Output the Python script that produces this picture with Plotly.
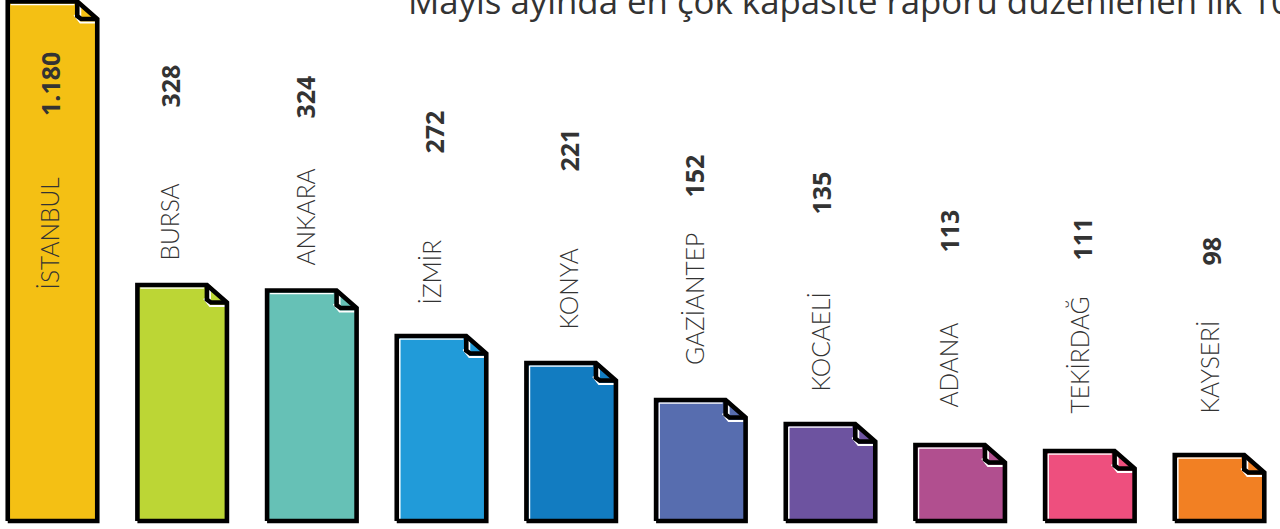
import plotly.graph_objects as go

# --- data ---
cities = ["İSTANBUL", "BURSA", "ANKARA", "İZMİR", "KONYA", "GAZİANTEP", "KOCAELİ", "ADANA", "TEKİRDAĞ", "KAYSERİ"]
value_labels = ["1.180", "328", "324", "272", "221", "152", "135", "113", "111", "98"]
# drawn bar lengths (the reference's bars are not proportional to the printed numbers)
bar_heights = [519.5, 236, 230.5, 185, 158, 121, 97, 76, 70, 66]
title_text = "Mayıs ayında en çok kapasite raporu düzenlenen ilk 10 il"

# --- styling / layout (separate from data) ---
colors = ["#F4C014", "#BCD635", "#66C1B6", "#219BD9", "#127CC1", "#576DAF", "#6D53A0", "#B14F8F", "#EE4F7E", "#F28023"]
W, H = 1280, 529
X0, DX = 52.5, 129.67
BASE_PX = 521
BAR_W = 89.5 / DX
EAR_X = 20 / DX
EAR_Y = 17.5
name_x_px = [49, 169, 305, 431, 568, 694, 820, 948, 1079, 1209]
value_x_px = [50, 169, 305, 433, 568, 694, 820, 948, 1081, 1210]
name_bottom_px = [292, 263, 268, 307, 332, 367, 394, 410, 416, 416]
value_bottom_px = [118, 110, 121, 156, 174, 200, 217, 255, 263, 268]
left_highlight = [False, False, False, True, True, True, True, True, True, True]
INK = "#333333"
NAME_FONT = dict(family="Lato, 'Open Sans', sans-serif", size=24.5, color=INK, weight=300)
VALUE_FONT = dict(family="'Open Sans', sans-serif", size=25, color=INK, weight=700)

idx = list(range(len(cities)))
fig = go.Figure()

fig.add_trace(go.Bar(
    x=idx, y=bar_heights, width=BAR_W, marker=dict(color=colors, line=dict(width=0)),
    showlegend=False, hoverinfo="skip",
))


def poly(xs, ys, fill=None, line=None, lw=0):
    fig.add_trace(go.Scatter(
        x=xs, y=ys, mode="lines", fill="toself" if fill else None, fillcolor=fill,
        line=dict(color=line or "rgba(0,0,0,0)", width=lw), showlegend=False, hoverinfo="skip",
    ))


for i, h, c in zip(idx, bar_heights, colors):
    L, R = i - BAR_W / 2, i + BAR_W / 2
    fx, fy = R - EAR_X, h - EAR_Y
    px = 1 / DX
    # cut the outside of the corner
    poly([fx, R + px, R + px, fx], [h + 3, h + 3, fy, h + 3], fill="#FFFFFF")
    # the folded flap
    poly([fx, R, fx, fx], [h, fy, fy, h], fill="#FFFFFF")
    poly([fx + 4 * px, R - 2 * px, fx + 4 * px, fx + 4 * px], [h - 4, fy + 1, fy + 1, h - 4], fill=c)
    # white highlights
    hx = [L + 3 * px, fx - 3 * px]
    poly(hx, [h - 3, h - 3], line="#FFFFFF", lw=1.6)
    poly([fx - 3 * px, fx + 3 * px, R - 2 * px], [fy + 4, fy - 3.5, fy - 3.5], line="#FFFFFF", lw=1.8)
    if left_highlight[i]:
        poly([L + 3 * px, L + 3 * px], [h - 3, 2], line="#FFFFFF", lw=1.6)
    # black outline
    poly([L, L, fx, R, R, L], [0, h, h, fy, 0, 0], line="#000000", lw=4.6)
    poly([fx, fx, fx + 4 * px, R], [h, fy + 3, fy, fy], line="#000000", lw=4.6)

annotations = []
for i in idx:
    annotations.append(dict(
        x=name_x_px[i] / W, y=(H - name_bottom_px[i]) / H, xref="paper", yref="paper",
        text=cities[i], textangle=-90, showarrow=False, xanchor="center", yanchor="bottom",
        font=NAME_FONT,
    ))
    annotations.append(dict(
        x=value_x_px[i] / W, y=(H - value_bottom_px[i]) / H, xref="paper", yref="paper",
        text=value_labels[i], textangle=-90, showarrow=False, xanchor="center", yanchor="bottom",
        font=VALUE_FONT,
    ))
annotations.append(dict(
    x=406 / W, y=(H - 26) / H, xref="paper", yref="paper", text=title_text, showarrow=False,
    xanchor="left", yanchor="bottom",
    font=dict(family="'Liberation Sans Narrow', 'Open Sans', sans-serif", size=34.8, color=INK),
))

fig.update_layout(
    width=W, height=H, margin=dict(l=0, r=0, t=0, b=0),
    paper_bgcolor="#FFFFFF", plot_bgcolor="#FFFFFF", annotations=annotations,
    xaxis=dict(range=[-X0 / DX, (W - X0) / DX], visible=False, fixedrange=True),
    yaxis=dict(range=[BASE_PX - H, BASE_PX], visible=False, fixedrange=True),
)
fig.write_html("out.html", post_script="document.body.style.margin='0';", config={"displayModeBar": False})
